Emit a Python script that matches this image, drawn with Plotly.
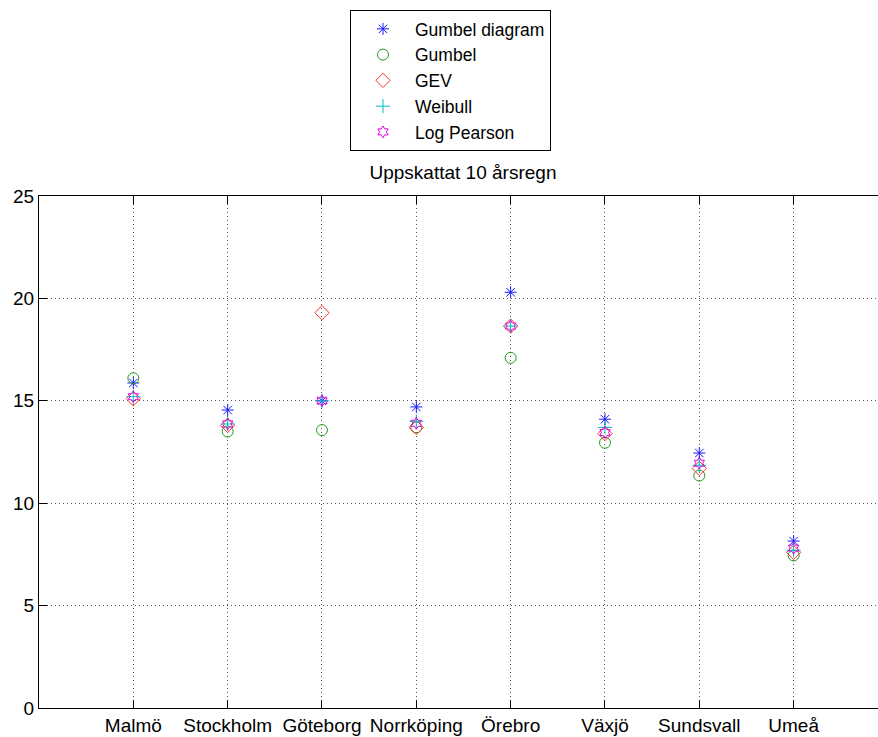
import plotly.graph_objects as go

cities = ["Malmö", "Stockholm", "Göteborg", "Norrköping", "Örebro", "Växjö", "Sundsvall", "Umeå"]
gumbel_diagram = [15.87, 14.55, 15.0, 14.7, 20.3, 14.1, 12.45, 8.15]
gumbel = [16.1, 13.5, 13.57, 13.7, 17.1, 12.95, 11.35, 7.45]
gev = [15.1, 13.8, 19.3, 13.7, 18.65, 13.4, 11.7, 7.6]
weibull = [15.2, 13.87, 15.0, 14.0, 18.65, 13.7, 11.85, 7.7]
log_pearson = [15.2, 13.87, 15.0, 13.9, 18.65, 13.45, 11.95, 7.8]

xpos = list(range(1, len(cities) + 1))

series = [
    ("Gumbel diagram", gumbel_diagram, "asterisk-open", "#1a1aff", 10),
    ("Gumbel", gumbel, "circle-open", "#1f9a1f", 11),
    ("GEV", gev, "diamond-open", "#ff3030", 11),
    ("Weibull", weibull, "cross-thin-open", "#00c0c0", 10),
    ("Log Pearson", log_pearson, "hexagram-open", "#e000e0", 9),
]

fig = go.Figure()
for i, (name, vals, sym, col, sz) in enumerate(series):
    fig.add_trace(go.Scatter(
        x=xpos, y=vals, mode="markers", name=name, legendgroup=f"g{i}",
        marker=dict(symbol=sym, color=col, size=sz, line=dict(color=col, width=1)),
    ))

font = "Liberation Sans, Arial, sans-serif"
fig.update_layout(
    width=878, height=737,
    margin=dict(l=39, r=0, t=196, b=29),
    paper_bgcolor="white", plot_bgcolor="white",
    font=dict(family=font, size=19, color="black"),
    title=dict(text="Uppskattat 10 årsregn", x=463 / 878, xanchor="center",
               y=1 - 172 / 737, yanchor="middle", font=dict(size=19)),
    legend=dict(x=(350 - 39) / 839, y=1 + (196 - 10) / 512, xanchor="left", yanchor="top",
                bordercolor="black", borderwidth=1, bgcolor="white",
                font=dict(size=17.5), tracegroupgap=0, traceorder="normal",
                itemwidth=54, entrywidth=170, entrywidthmode="pixels"),
    showlegend=True,
)
grid = dict(showgrid=True, gridcolor="#555555", griddash="1px,3px", gridwidth=1)
fig.update_xaxes(
    range=[0, 839 / 94.33], tickmode="array", tickvals=xpos, ticktext=cities,
    showline=True, linecolor="black", linewidth=1, mirror="ticks",
    ticks="inside", ticklen=8, tickcolor="black",
    zeroline=False, tickfont=dict(size=19), **grid,
)
fig.update_yaxes(
    range=[0, 25], tickvals=[0, 5, 10, 15, 20, 25],
    showline=True, linecolor="black", linewidth=1, mirror=False,
    ticks="inside", ticklen=8, tickcolor="black",
    zeroline=False, tickfont=dict(size=19), **grid,
)
fig.write_html("out.html")
